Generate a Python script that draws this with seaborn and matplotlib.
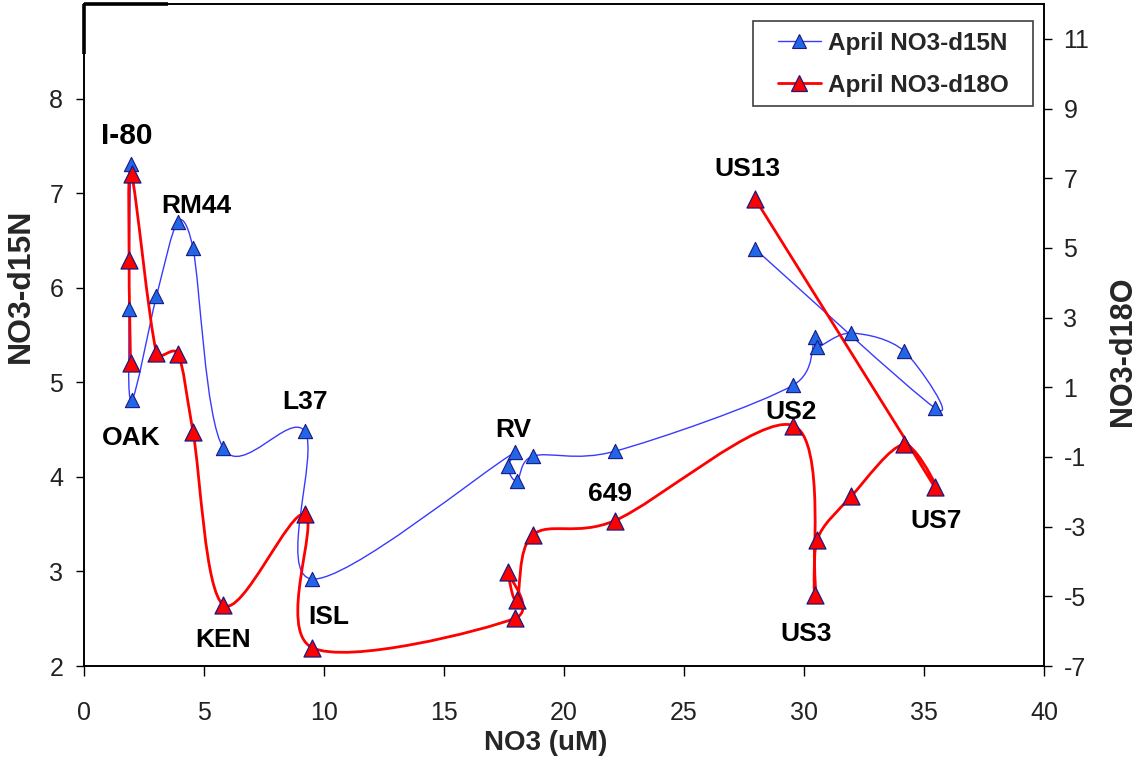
import numpy as np
import matplotlib
matplotlib.use("Agg")
import matplotlib.pyplot as plt
from matplotlib.path import Path
from matplotlib.patches import PathPatch, Rectangle
from matplotlib.lines import Line2D
import seaborn as sns

# ---- data: sampling sites in the order the curves connect them ----
no3 = [1.94, 1.88, 1.98, 3.02, 3.91, 4.54, 5.81, 9.20, 9.50,
       17.96, 17.65, 18.04, 18.71, 22.11, 29.55, 30.45, 30.54,
       31.97, 34.17, 35.45, 27.96]
d15n = [7.31, 5.78, 4.81, 5.91, 6.70, 6.42, 4.30, 4.48, 2.92,
        4.26, 4.11, 3.96, 4.22, 4.27, 4.97, 5.48, 5.37,
        5.52, 5.33, 4.73, 6.41]
d18o = [1.69, 4.64, 7.12, 1.99, 1.96, -0.27, -5.25, -2.65, -6.47,
        -5.63, -4.31, -5.11, -3.23, -2.83, -0.10, -4.96, -3.38,
        -2.13, -0.64, -1.87, 6.41]

series_names = ["April NO3-d15N", "April NO3-d18O"]

# site names and where they are written (NO3, d15N scale)
site_names = ["I-80", "RM44", "OAK", "L37", "KEN", "ISL", "RV",
              "649", "US13", "US2", "US3", "US7"]
name_x = [1.80, 4.70, 1.96, 9.20, 5.80, 10.20, 17.90,
          21.93, 27.65, 29.47, 30.08, 35.50]
name_y = [7.60, 6.86, 4.41, 4.79, 2.28, 2.52, 4.50,
          3.82, 7.25, 4.69, 2.34, 3.53]

x_ticks = list(range(0, 41, 5))
left_ticks = list(range(2, 9))
right_ticks = list(range(-7, 12, 2))

BLUE_LINE = "#3a3aff"
BLUE_FILL = "#2266e8"
RED = "#ff0000"
NAVY = "#1a1a80"

sns.set_theme(style="white")
plt.rcParams["font.family"] = ["Liberation Sans", "DejaVu Sans"]
plt.rcParams["axes.unicode_minus"] = False

fig = plt.figure(figsize=(11.44, 7.61), dpi=100)
ax = fig.add_axes([84 / 1144, 95 / 761, 960 / 1144, 662 / 761])
ax2 = ax.twinx()

ax.set_xlim(0, 40)
ax.set_ylim(2, 9)
ax2.set_ylim(-7, 12)
ax.set_autoscale_on(False)
ax2.set_autoscale_on(False)


def smooth_path(trans, xs, ys):
    """Bezier curve through the points, built like a spreadsheet smoothed line."""
    pts = trans.transform(np.column_stack([xs, ys]))
    n = len(pts)
    verts = [pts[0]]
    codes = [Path.MOVETO]
    for i in range(n - 1):
        p0 = pts[i - 1] if i > 0 else pts[i]
        p1 = pts[i]
        p2 = pts[i + 1]
        p3 = pts[i + 2] if i + 2 < n else pts[i + 1]
        d12 = np.hypot(*(p2 - p1))
        d02 = np.hypot(*(p2 - p0))
        d13 = np.hypot(*(p3 - p1))
        f1 = 1 / 6 if d02 / 6 < d12 / 2 else (d12 / (2 * d02) if d02 > 0 else 0)
        f2 = 1 / 6 if d13 / 6 < d12 / 2 else (d12 / (2 * d13) if d13 > 0 else 0)
        verts += [p1 + f1 * (p2 - p0), p2 - f2 * (p3 - p1), p2]
        codes += [Path.CURVE4] * 3
    verts = trans.inverted().transform(np.array(verts))
    return Path(verts, codes)


# smoothed lines (blue on the d15N scale, red on the d18O scale)
ax2.add_patch(PathPatch(smooth_path(ax.transData, no3, d15n), fill=False,
                        edgecolor=BLUE_LINE, lw=1.0, transform=ax.transData,
                        zorder=2, capstyle="round", joinstyle="round"))
ax2.add_patch(PathPatch(smooth_path(ax2.transData, no3, d18o), fill=False,
                        edgecolor=RED, lw=2.0, transform=ax2.transData,
                        zorder=3, capstyle="round", joinstyle="round"))

# markers
sns.scatterplot(x=no3, y=d15n, ax=ax2, marker="^", s=105, color=BLUE_FILL,
                edgecolor=NAVY, linewidth=0.8, transform=ax.transData,
                zorder=4, legend=False)
sns.scatterplot(x=no3, y=d18o, ax=ax2, marker="^", s=150, color=RED,
                edgecolor=NAVY, linewidth=0.9, zorder=5, legend=False)

ax.set_xlim(0, 40)
ax.set_ylim(2, 9)
ax2.set_ylim(-7, 12)

# site names
for name, tx, ty in zip(site_names, name_x, name_y):
    ax2.text(tx, ty, name, transform=ax.transData, ha="center", va="center",
             fontsize=21.5 if name == "I-80" else 19, fontweight="bold",
             color="black", zorder=6)

# axes styling
ax.set_xticks(x_ticks)
ax.set_yticks(left_ticks)
ax2.set_yticks(right_ticks)
ax.grid(False)
ax2.grid(False)
for a in (ax, ax2):
    for sp in a.spines.values():
        sp.set_color("black")
        sp.set_linewidth(1.2)
ax.tick_params(axis="x", direction="out", length=7, width=1, pad=18,
               labelsize=18, colors="black", bottom=True)
ax.tick_params(axis="y", direction="out", length=6, width=1, pad=9,
               labelsize=18, colors="black", left=True)
ax2.tick_params(axis="y", direction="out", length=6, width=1, pad=8,
                labelsize=18, colors="black", right=True)
for lab in ax.get_xticklabels() + ax.get_yticklabels() + ax2.get_yticklabels():
    lab.set_color("#222222")

ax.set_xlabel("NO3 (uM)", fontsize=20, fontweight="bold", va="center")
ax.set_ylabel("NO3-d15N", fontsize=23, fontweight="bold", va="center")
ax2.set_ylabel("NO3-d18O", fontsize=22, fontweight="bold", va="center",
               rotation=90)
ax.xaxis.set_label_coords(0.481, -0.117)
ax.yaxis.set_label_coords(-0.066, 0.574)
ax2.yaxis.set_label_coords(1.082, 0.475)

# heavier corner of the frame
for xs_, ys_ in (([0, 0.087], [1, 1]), ([0, 0], [1, 0.925])):
    ax2.add_line(Line2D(xs_, ys_, transform=ax.transAxes, color="black",
                        lw=2.6, solid_capstyle="butt", clip_on=False, zorder=7))

# legend: entries plus a separate box around them
handles = [
    Line2D([], [], color=BLUE_LINE, lw=1.0, marker="^", ms=10,
           markerfacecolor=BLUE_FILL, markeredgecolor=NAVY, markeredgewidth=0.8),
    Line2D([], [], color=RED, lw=2.0, marker="^", ms=12,
           markerfacecolor=RED, markeredgecolor=NAVY, markeredgewidth=0.9),
]
ax2.add_patch(Rectangle((0.6969, 0.8459), 0.2916, 0.1284,
                        transform=ax.transAxes, facecolor="white",
                        edgecolor="#404040", lw=1.2, zorder=8))
leg = ax2.legend(handles, series_names, loc="upper left",
                 bbox_to_anchor=(0.7229, 0.958), borderaxespad=0,
                 prop={"size": 17.5, "weight": "bold"}, frameon=False,
                 handlelength=1.75, handletextpad=0.3, labelspacing=0.78,
                 borderpad=0)
leg.set_zorder(9)

fig.savefig("out.png", dpi=100)
